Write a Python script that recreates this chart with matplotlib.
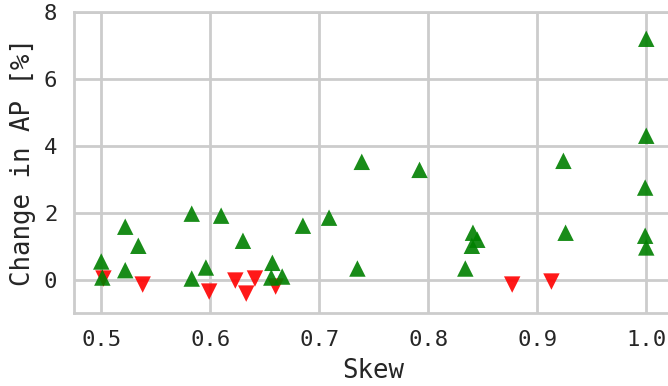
import matplotlib
matplotlib.use("Agg")
import matplotlib.pyplot as plt
import seaborn as sns

# ------------------------------------------------
#  Data
# ------------------------------------------------
skew_up = [0.500, 0.501, 0.522, 0.522, 0.534, 0.583, 0.583, 0.596, 0.610,
           0.630, 0.657, 0.656, 0.666, 0.685, 0.709, 0.735, 0.739, 0.792,
           0.834, 0.841, 0.845, 0.840, 0.924, 0.926, 1.000, 1.000, 0.999,
           0.999, 1.000]
gain_up = [0.54, 0.06, 1.58, 0.28, 1.01, 1.97, 0.03, 0.36, 1.91,
           1.16, 0.50, 0.06, 0.09, 1.61, 1.85, 0.33, 3.52, 3.28,
           0.33, 1.40, 1.19, 1.01, 3.55, 1.40, 7.20, 4.30, 2.75,
           1.31, 0.96]

skew_down = [0.502, 0.538, 0.599, 0.623, 0.633, 0.641, 0.660, 0.877, 0.913]
gain_down = [0.03, -0.15, -0.36, -0.03, -0.42, 0.03, -0.21, -0.15, -0.06]

# ------------------------------------------------
#  Plot
# ------------------------------------------------
sns.set_theme(style="whitegrid")
plt.rcParams["font.family"] = ["DejaVu Sans Mono", "DejaVu Sans"]

fig = plt.figure(figsize=(6.68, 3.86), dpi=100)
ax = fig.add_axes([74 / 668, 73 / 386, 599.5 / 668, 301 / 386])

ax.scatter(skew_down, gain_down, marker="v", s=140, color="red",
           alpha=0.9, edgecolors="none", zorder=3)
ax.scatter(skew_up, gain_up, marker="^", s=140, color="green",
           alpha=0.9, edgecolors="none", zorder=3)

ax.set_xlim(0.475, 1.025)
ax.set_ylim(-1, 8)
ax.set_xticks([0.5, 0.6, 0.7, 0.8, 0.9, 1.0])
ax.set_yticks([0, 2, 4, 6, 8])

ax.set_xlabel("Skew", fontsize=18.5, labelpad=6)
ax.set_ylabel("Change in AP [%]", fontsize=18.5, labelpad=6)
ax.tick_params(axis="both", labelsize=16, length=0, pad=12)

for sp in ax.spines.values():
    sp.set_color("#cccccc")
    sp.set_linewidth(2)
ax.grid(True, color="#cccccc", linewidth=2)
ax.set_axisbelow(True)

fig.savefig("out.png", dpi=100)
